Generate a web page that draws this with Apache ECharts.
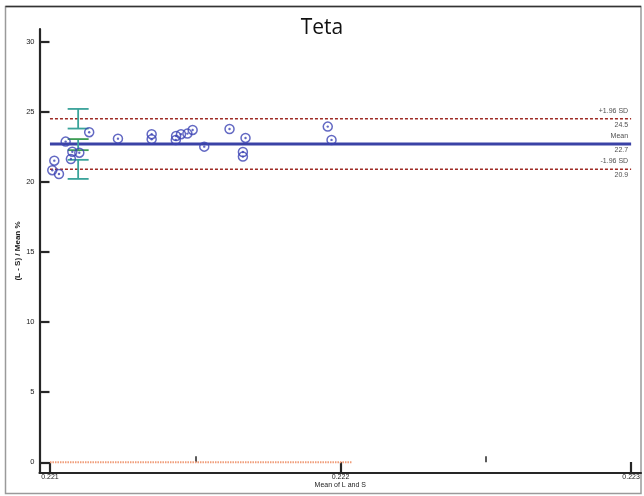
<!DOCTYPE html>
<html>
<head>
<meta charset="utf-8">
<script src="https://cdn.jsdelivr.net/npm/echarts@6/dist/echarts.min.js"></script>
<style>html,body{margin:0;padding:0;background:#fff;}#c{width:644px;height:496px;}</style>
</head>
<body>
<div id="c"></div>
<script>
// ---- data ----
const pointX = [0.221054,0.221135,0.221077,0.221101,0.221072,0.221015,0.221008,0.221031,0.221234,0.221350,0.221350,0.221434,0.221433,0.221451,0.221473,0.221491,0.221531,0.221618,0.221673,0.221664,0.221664,0.221956,0.221969];
const pointY = [22.87,23.54,22.15,22.08,21.63,21.51,20.83,20.56,23.08,23.40,23.04,23.27,22.99,23.40,23.44,23.70,22.51,23.77,23.13,22.13,21.80,23.94,22.99];
const meanValue = 22.7;
const upperLoA = 24.5;
const lowerLoA = 20.9;
const lineRange = [0.221, 0.223];
const zeroLineRange = [0.221, 0.222039];
const ciX = 0.221097;
const upperCI = [23.8, 25.2];
const meanCI = [22.26, 23.05];
const lowerCI = [20.21, 21.57];
const xTicks = [0.221, 0.222, 0.223];
const xMinorTicks = [0.2215, 0.2225];
const yTicks = [0, 5, 10, 15, 20, 25, 30];
const statLabels = [
  {v: upperLoA, top: '+1.96 SD', bottom: '24.5'},
  {v: meanValue, top: 'Mean', bottom: '22.7'},
  {v: lowerLoA, top: '-1.96 SD', bottom: '20.9'}
];

const pts = pointX.map((x, i) => [x, pointY[i]]);
const FONT = 'Liberation Sans';
const AXC = '#262626';
const TXT = '#1a1a1a';

const chart = echarts.init(document.getElementById('c'));

function hLine(name, y, range, color, width, type) {
  return {
    type: 'line', name, data: [[range[0], y], [range[1], y]],
    symbol: 'none', silent: true, animation: false,
    lineStyle: {color, width, type}, z: 3
  };
}

const labelData = [];
statLabels.forEach(s => {
  labelData.push({value: [lineRange[1], s.v], label: {formatter: s.top, offset: [0, -8]}});
  labelData.push({value: [lineRange[1], s.v], label: {formatter: s.bottom, offset: [0, 6]}});
});

const ciData = [
  {value: [ciX, upperCI[0], upperCI[1]], c: '#3aa39a', cap: '#3aa39a'},
  {value: [ciX, meanCI[0], meanCI[1]], c: '#3aa39a', cap: '#3f9e55'},
  {value: [ciX, lowerCI[0], lowerCI[1]], c: '#3aa39a', cap: '#3aa39a'}
];

chart.setOption({
  animation: false,
  backgroundColor: '#fff',
  title: {
    text: 'Teta', left: 'center', top: 13,
    textStyle: {fontFamily: 'Open Sans', fontSize: 21, fontWeight: 'normal', color: '#111'}
  },
  grid: {left: 39.5, right: 3, top: 29, bottom: 23, containLabel: false},
  xAxis: [{
    type: 'value', min: 0.220964, max: 0.223034,
    name: 'Mean of L and S', nameLocation: 'middle', nameGap: 9, nameMoveOverlap: false,
    nameTextStyle: {fontFamily: FONT, fontSize: 7, color: TXT, verticalAlign: 'top'},
    axisLine: {show: true, onZero: false, lineStyle: {color: AXC, width: 2.2}},
    axisTick: {show: true, inside: true, length: 11, customValues: xTicks, lineStyle: {color: AXC, width: 2.2}},
    axisLabel: {show: true, customValues: xTicks, margin: 1, fontFamily: FONT, fontSize: 7, color: TXT,
      formatter: v => v.toFixed(3)},
    splitLine: {show: false}
  }, {
    type: 'value', min: 0.220964, max: 0.223034, position: 'bottom', offset: 0,
    axisLine: {show: false},
    axisTick: {show: true, inside: true, length: 6, customValues: xMinorTicks, lineStyle: {color: AXC, width: 1.5}},
    axisLabel: {show: false},
    splitLine: {show: false}
  }],
  yAxis: {
    type: 'value', min: -0.763, max: 30.9,
    name: '(L - S) / Mean %', nameLocation: 'middle', nameGap: 18, nameMoveOverlap: false,
    nameTextStyle: {fontFamily: FONT, fontSize: 8, color: TXT, fontWeight: 'bold'},
    axisLine: {show: true, onZero: false, lineStyle: {color: AXC, width: 2.2}},
    axisTick: {show: true, inside: true, length: 10, customValues: yTicks, lineStyle: {color: AXC, width: 2.2}},
    axisLabel: {show: true, customValues: yTicks, margin: 5, fontFamily: FONT, fontSize: 7.5, color: TXT},
    splitLine: {show: false}
  },
  graphic: [
    {type: 'rect', shape: {x: 5.5, y: 6.5, width: 635.5, height: 487}, style: {fill: null, stroke: '#9a9a9a', lineWidth: 1.5}, silent: true, z: 0},
    {type: 'line', shape: {x1: 5.5, y1: 6.5, x2: 641, y2: 6.5}, style: {stroke: '#333', lineWidth: 1.5}, silent: true, z: 1}
  ],
  series: [
    hLine('zero', 0, zeroLineRange, '#f09c78', 2, [1.5, 1]),
    hLine('upper', upperLoA, lineRange, '#9e2b25', 1.5, [3, 2]),
    hLine('lower', lowerLoA, lineRange, '#9e2b25', 1.5, [3, 2]),
    hLine('mean', meanValue, lineRange, '#3a42a6', 3, 'solid'),
    {
      type: 'custom', name: 'ci', silent: true, z: 4,
      data: ciData,
      renderItem: function (params, api) {
        const item = ciData[params.dataIndex];
        const p1 = api.coord([api.value(0), api.value(1)]);
        const p2 = api.coord([api.value(0), api.value(2)]);
        const hw = 10.5;
        return {
          type: 'group', children: [
            {type: 'line', shape: {x1: p1[0], y1: p1[1], x2: p2[0], y2: p2[1]}, style: {stroke: item.c, lineWidth: 1.8}},
            {type: 'line', shape: {x1: p1[0] - hw, y1: p1[1], x2: p1[0] + hw, y2: p1[1]}, style: {stroke: item.cap, lineWidth: 1.8}},
            {type: 'line', shape: {x1: p2[0] - hw, y1: p2[1], x2: p2[0] + hw, y2: p2[1]}, style: {stroke: item.cap, lineWidth: 1.8}}
          ]
        };
      }
    },
    {
      type: 'scatter', name: 'rings', data: pts, symbol: 'circle', symbolSize: 9, z: 5,
      itemStyle: {color: 'rgba(255,255,255,0)', borderColor: '#3c44b4', borderWidth: 1.5}
    },
    {
      type: 'scatter', name: 'dots', data: pts, symbol: 'circle', symbolSize: 2.4, z: 6,
      itemStyle: {color: '#3c44b4'}
    },
    {
      type: 'scatter', name: 'labels', data: labelData, symbolSize: 0, silent: true, z: 7,
      label: {show: true, position: 'left', distance: 3, fontFamily: FONT, fontSize: 7, color: TXT, align: 'right'}
    }
  ]
});
</script>
</body>
</html>
